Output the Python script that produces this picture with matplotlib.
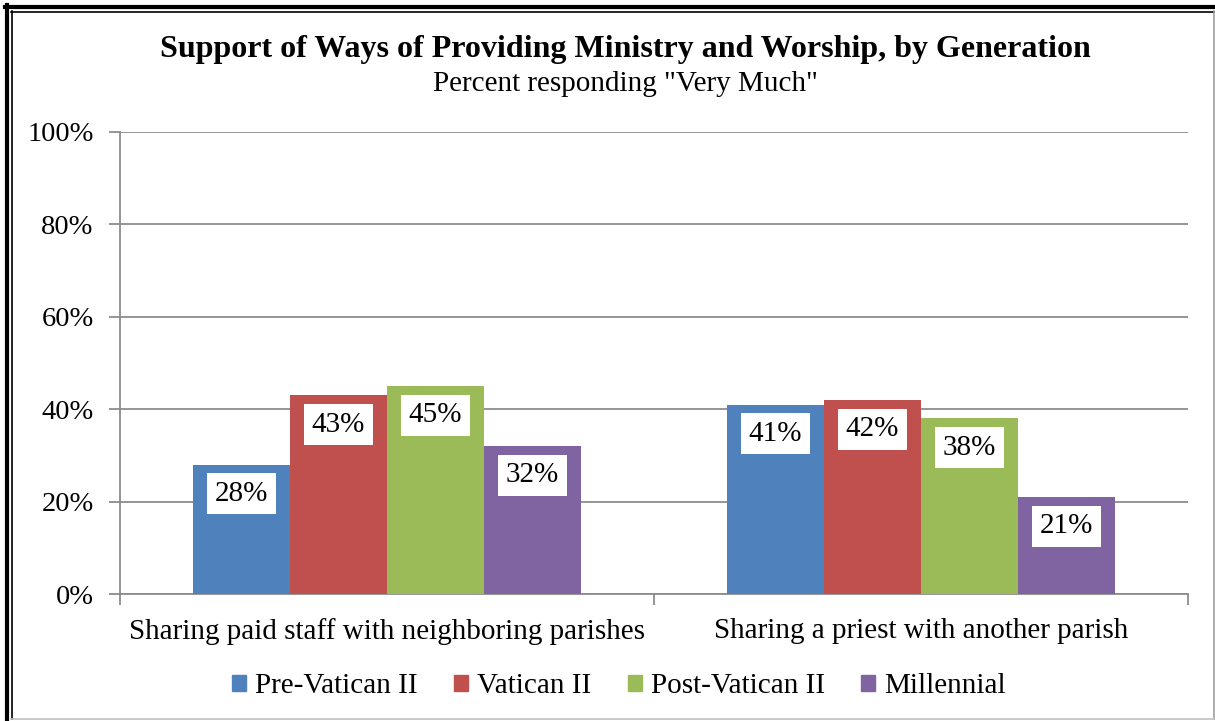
import matplotlib
matplotlib.use("Agg")
import matplotlib.pyplot as plt
from matplotlib.lines import Line2D
import numpy as np

categories = ["Sharing paid staff with neighboring parishes", "Sharing a priest with another parish"]
series_names = ["Pre-Vatican II", "Vatican II", "Post-Vatican II", "Millennial"]
values = {
    "Pre-Vatican II": [28, 41],
    "Vatican II": [43, 42],
    "Post-Vatican II": [45, 38],
    "Millennial": [32, 21],
}
colors = ["#4F81BD", "#C0504D", "#9BBB59", "#8064A2"]
yticks = [0, 20, 40, 60, 80, 100]

plt.rcParams['font.family'] = ['Liberation Serif', 'DejaVu Serif']

W, H = 1215, 721
fig = plt.figure(figsize=(W / 100, H / 100), dpi=100)

def fx(x):
    return x / W

def fy(y):
    return 1 - y / H

ax = fig.add_axes([fx(120), fy(594), (1188 - 120) / W, (594 - 132) / H])

n = len(series_names)
gap = 1.5
bw = 1.0 / (n + gap)
x = np.arange(len(categories))
grid_c = "#8c8c8c"

for i, name in enumerate(series_names):
    pos = x - (n * bw) / 2 + bw * (i + 0.5)
    bars = ax.bar(pos, values[name], width=bw, color=colors[i], zorder=3, linewidth=0)
    for b, v in zip(bars, values[name]):
        ax.annotate(f"{v}%", (b.get_x() + b.get_width() / 2, v), xytext=(0, -21),
                    textcoords="offset points", ha="center", va="center",
                    fontsize=21, zorder=5,
                    bbox=dict(boxstyle="square,pad=0.26", fc="white", ec="none"))

ax.set_xlim(-0.5, len(categories) - 0.5)
ax.set_ylim(0, 100)
ax.set_yticks(yticks)
ax.set_yticklabels([f"{t}%" for t in yticks], fontsize=20.5)
ax.yaxis.grid(True, color=grid_c, linewidth=1.3, zorder=0)
ax.set_axisbelow(True)

ax.set_xticks(x)
ax.set_xticklabels(categories, fontsize=21)
ax.set_xticks([-0.5, 0.5, 1.5], minor=True)
ax.tick_params(axis="x", which="major", length=0, pad=17)
ax.tick_params(axis="x", which="minor", length=8, width=1.3, color=grid_c, direction="out")
ax.tick_params(axis="y", length=8, width=1.3, color=grid_c, direction="out", pad=11)

for s in ["top", "right"]:
    ax.spines[s].set_visible(False)
for s in ["left", "bottom"]:
    ax.spines[s].set_color(grid_c)
    ax.spines[s].set_linewidth(1.3)

fig.text(fx(625), fy(50), "Support of Ways of Providing Ministry and Worship, by Generation",
         ha="center", va="center", fontsize=23, fontweight="bold")
fig.text(fx(625), fy(84), 'Percent responding "Very Much"', ha="center", va="center", fontsize=21)

handles = [plt.Rectangle((0, 0), 1, 1, color=c) for c in colors]
fig.legend(handles, series_names, loc="center", bbox_to_anchor=(fx(619), fy(686)),
           ncol=4, frameon=False, fontsize=21, handlelength=0.48, handleheight=0.48,
           handletextpad=0.3, columnspacing=1.25)

# frame
fig.add_artist(Line2D([fx(5), fx(1215)], [fy(7), fy(7)], color="black", lw=3, transform=fig.transFigure))
fig.add_artist(Line2D([fx(7), fx(7)], [fy(5), fy(721)], color="black", lw=3, transform=fig.transFigure))
fig.add_artist(Line2D([fx(11), fx(1214)], [fy(11.5), fy(11.5)], color="black", lw=1.2, transform=fig.transFigure))
fig.add_artist(Line2D([fx(11.5), fx(11.5)], [fy(11), fy(719)], color="black", lw=1.2, transform=fig.transFigure))
fig.add_artist(Line2D([fx(1213.5), fx(1213.5)], [fy(11), fy(719)], color="#a0a0a0", lw=1.2, transform=fig.transFigure))
fig.add_artist(Line2D([fx(11), fx(1214)], [fy(719), fy(719)], color="#c0c0c0", lw=1.2, transform=fig.transFigure))

fig.savefig("out.png", dpi=100)
